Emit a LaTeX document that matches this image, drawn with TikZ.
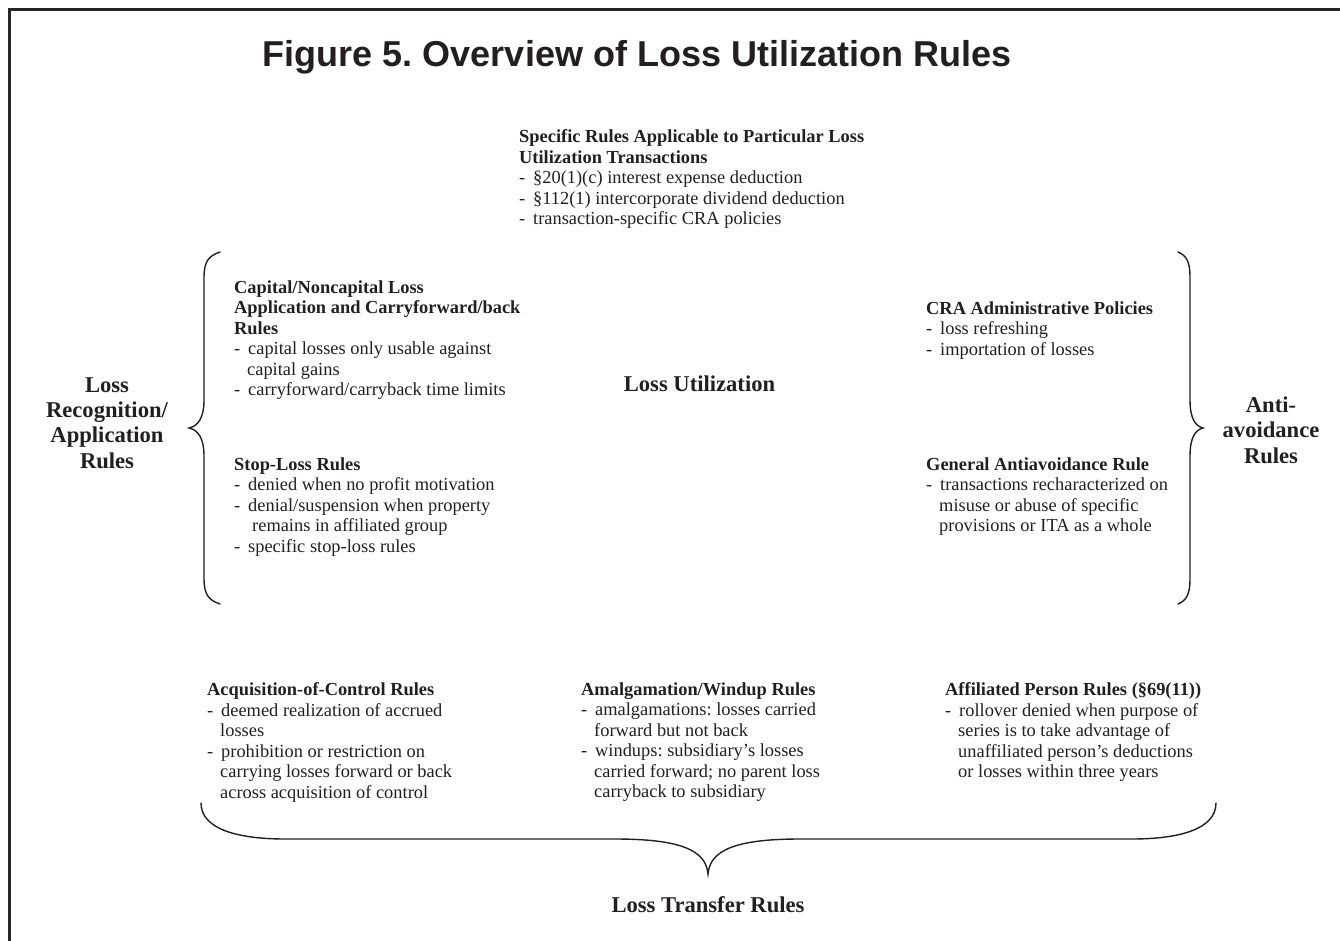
\documentclass[tikz,border=0pt]{standalone}
\usepackage{fontspec}
\setmainfont{Liberation Serif}
\newfontfamily\titlefont{Liberation Sans}
\definecolor{ink}{HTML}{231F20}
\newcommand{\dsh}{\makebox[14pt][l]{-}}
\newcommand{\cnt}{\hspace*{13pt}}
\tikzset{
  body/.style={anchor=north west, inner sep=0pt, align=left, font=\fontsize{18.4}{20.5}\selectfont, text=ink},
  biglabel/.style={inner sep=0pt, align=center, font=\fontsize{22.6}{25.3}\selectfont\bfseries, text=ink},
  bracepath/.style={line width=1.4pt, draw=ink, line cap=round},
  framepath/.style={line width=2.6pt, draw=black!85},
}
\frenchspacing
\begin{document}
\begin{tikzpicture}[x=1pt,y=-1pt]
\useasboundingbox (0,0) rectangle (1340,941);
\draw[framepath] (9.5,941) -- (9.5,9.5) -- (1340,9.5);

\node[inner sep=0pt, text=ink, font=\titlefont\fontsize{36}{40}\selectfont\bfseries] (title) at (637,57) {Figure 5. Overview of Loss Utilization Rules};

\node[body] (spec) at (519,129.5) {\textbf{Specific Rules Applicable to Particular Loss}\\\textbf{Utilization Transactions}\\\dsh\S20(1)(c) interest expense deduction\\\dsh\S112(1) intercorporate dividend deduction\\\dsh transaction-specific CRA policies};

\node[body] (cap) at (234,280.5) {\textbf{Capital/Noncapital Loss}\\\textbf{Application and Carryforward/back}\\\textbf{Rules}\\\dsh capital losses only usable against\\\cnt capital gains\\\dsh carryforward/carryback time limits};

\node[body] (stop) at (234,457.5) {\textbf{Stop-Loss Rules}\\\dsh denied when no profit motivation\\\dsh denial/suspension when property\\\hspace*{18pt}remains in affiliated group\\\dsh specific stop-loss rules};

\node[body] (cra) at (926,301.5) {\textbf{CRA Administrative Policies}\\\dsh loss refreshing\\\dsh importation of losses};

\node[body] (gaar) at (926,457.5) {\textbf{General Antiavoidance Rule}\\\dsh transactions recharacterized on\\\cnt misuse or abuse of specific\\\cnt provisions or ITA as a whole};

\node[body] (aoc) at (207,682.5) {\textbf{Acquisition-of-Control Rules}\\\dsh deemed realization of accrued\\\cnt losses\\\dsh prohibition or restriction on\\\cnt carrying losses forward or back\\\cnt across acquisition of control};

\node[body] (amal) at (581,682.5) {\textbf{Amalgamation/Windup Rules}\\\dsh amalgamations: losses carried\\\cnt forward but not back\\\dsh windups: subsidiary’s losses\\\cnt carried forward; no parent loss\\\cnt carryback to subsidiary};

\node[body] (aff) at (945,682.5) {\textbf{Affiliated Person Rules (\S69(11))}\\\dsh rollover denied when purpose of\\\cnt series is to take advantage of\\\cnt unaffiliated person’s deductions\\\cnt or losses within three years};

\node[biglabel] (util) at (699.5,384) {Loss Utilization};
\node[biglabel] (recog) at (107,423) {Loss\\Recognition/\\Application\\Rules};
\node[biglabel] (anti) at (1271,430) {Anti-\\avoidance\\Rules};
\node[biglabel] (transfer) at (708,905) {Loss Transfer Rules};

% left brace
\coordinate (lbtip) at (189,428);
\draw[bracepath] (220,252) .. controls (208,256) and (204,262) .. (204,278) -- (204,400)
  .. controls (204,418) and (198,426) .. (lbtip)
  .. controls (198,430) and (204,438) .. (204,456) -- (204,578)
  .. controls (204,594) and (208,600) .. (220,604);
% right brace
\coordinate (rbtip) at (1203,428);
\draw[bracepath] (1178,252) .. controls (1187,256) and (1190,262) .. (1190,278) -- (1190,400)
  .. controls (1190,418) and (1195,426) .. (rbtip)
  .. controls (1195,430) and (1190,438) .. (1190,456) -- (1190,578)
  .. controls (1190,594) and (1187,600) .. (1178,604);
% bottom brace
\coordinate (bbtip) at (708,874);
\draw[bracepath] (201,803) .. controls (201,830) and (240,839) .. (285,839) -- (615,839)
  .. controls (680,839) and (706,850) .. (bbtip)
  .. controls (710,850) and (736,839) .. (800,839) -- (1132,839)
  .. controls (1177,839) and (1216,830) .. (1216,803);
\end{tikzpicture}
\end{document}
